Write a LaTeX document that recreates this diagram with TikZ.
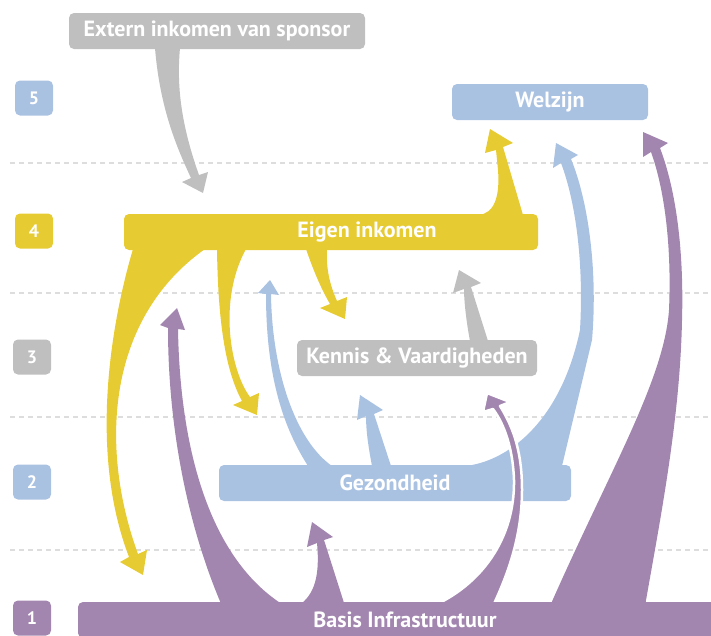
\documentclass[tikz,border=0pt]{standalone}
\usepackage{fontspec}
\setmainfont{PT Sans}
\definecolor{yel}{HTML}{E7CB32}
\definecolor{blu}{HTML}{AAC2E2}
\definecolor{gry}{HTML}{BFBFBF}
\definecolor{pur}{HTML}{A286AF}
\definecolor{dsh}{HTML}{DDDDDD}

\begin{document}
\begin{tikzpicture}[x=1pt, y=-1pt,
  box/.style = {rounded corners=5pt, text=white, font=\bfseries\fontsize{22}{26}\selectfont, minimum height=36pt, inner sep=0pt},
  lvl/.style = {box, minimum width=38pt, minimum height=35pt, font=\bfseries\fontsize{18}{22}\selectfont},
  txt/.style = {text=white, font=\bfseries\fontsize{22}{26}\selectfont, inner sep=0pt},
  dashline/.style = {dash pattern=on 5pt off 4pt, line width=1.5pt, color=dsh}]

\clip (0,0) rectangle (711,635);

% Grid
\foreach \y in {163,293,417,550} {
  \draw[dashline] (10,\y) -- (711,\y);
}

% Levels
\foreach \n/\x/\y/\c in {5/34/98/blu, 4/34/231/yel, 3/32/357/gry, 2/32/482/blu, 1/32/618/pur} {
  \node[lvl, fill=\c] (lvl\n) at (\x,\y) {\n};
}

% Boxes
\node[box, fill=gry, minimum width=296pt] (sponsor) at (217,31) {Extern inkomen van sponsor};
\node[box, fill=blu, minimum width=196pt] (welzijn) at (550,102) {Welzijn};
\node[box, fill=yel, minimum width=414pt] (eigen) at (331,232) {};
\node[txt] (eigentxt) at (367,232) {Eigen inkomen};
\node[box, fill=gry, minimum width=240pt] (kennis) at (417,358) {Kennis \& Vaardigheden};
\node[box, fill=blu, minimum width=352pt] (gezond) at (395,483) {Gezondheid};

% Arrows from Gezondheid
\fill[blu] (465,466) .. controls (505,462) and (560,425) .. (580,330)
  .. controls (584,260) and (575,200) .. (561,163) -- (553,168) -- (556,143) -- (578,155) -- (571,159)
  .. controls (588,200) and (598,270) .. (592,340) -- (562,466) -- cycle;
\fill[blu] (308,466) .. controls (285,430) and (266,380) .. (266,294) -- (258,293) -- (270,280) -- (279,295) -- (271,294)
  .. controls (272,370) and (295,440) .. (332,466) -- cycle;
\fill[blu] (372,466) .. controls (368,445) and (366,430) .. (366,416) -- (357,420) -- (360,395) -- (383,410) -- (374,414)
  -- (391,466) -- cycle;

% Arrows from Eigen inkomen
\fill[yel] (478,215) .. controls (495,214) and (500,195) .. (498,170) -- (496,150) -- (485,153) -- (490,129) -- (513,143) -- (503,147)
  -- (523,215) -- cycle;
\fill[yel] (133,249) .. controls (112,320) and (88,450) .. (129,557) -- (120,562) -- (143,575) -- (147,550) -- (138,554)
  .. controls (100,450) and (105,320) .. (205,249) -- cycle;
\fill[yel] (217,249) .. controls (218,320) and (225,370) .. (242,401) -- (233,405) -- (257,415) -- (259,393) -- (250,397)
  .. controls (230,370) and (218,300) .. (246,249) -- cycle;
\fill[yel] (306,249) .. controls (315,275) and (322,290) .. (330,304) -- (320,308) -- (345,319) -- (347,297) -- (337,301)
  .. controls (330,285) and (326,270) .. (327,249) -- cycle;

% Arrows from Extern inkomen and Kennis
\fill[gry] (155,48) .. controls (160,110) and (178,150) .. (191,178) -- (182,182) -- (203,193) -- (208,172) -- (199,175)
  .. controls (183,130) and (176,90) .. (180,48) -- cycle;
\fill[gry] (470,341) .. controls (466,320) and (464,300) .. (464,289) -- (453,293) -- (459,270) -- (481,283) -- (471,287)
  -- (488,341) -- cycle;

% Arrows from Basis Infrastructuur
\fill[pur] (222,606) .. controls (185,520) and (168,420) .. (168,328) -- (160,325) -- (177,308) -- (185,330) -- (178,329)
  .. controls (180,450) and (210,560) .. (285,606) -- cycle;
\fill[pur] (298,606) .. controls (315,595) and (320,575) .. (317,543) -- (307,547) -- (312,522) -- (333,537) -- (324,540)
  -- (345,606) -- cycle;
\filldraw[pur, draw=white, line width=2.5pt, line join=round] (433,606) .. controls (480,585) and (515,540) .. (514,480)
  .. controls (513,450) and (505,425) .. (493,409) -- (483,412) -- (487,393) -- (510,402) -- (500,406)
  .. controls (515,430) and (522,455) .. (522,490) .. controls (522,540) and (505,580) .. (493,606) -- cycle;
\fill[pur] (550,606) .. controls (610,470) and (664,380) .. (669,310) .. controls (672,240) and (663,185) .. (651,152)
  -- (643,157) -- (643,132) -- (668,143) -- (660,148)
  .. controls (676,190) and (684,250) .. (682,320) .. controls (680,420) and (660,520) .. (645,606) -- cycle;

\node[box, fill=pur, minimum width=654pt] (basis) at (405,620) {Basis Infrastructuur};

\end{tikzpicture}
\end{document}
